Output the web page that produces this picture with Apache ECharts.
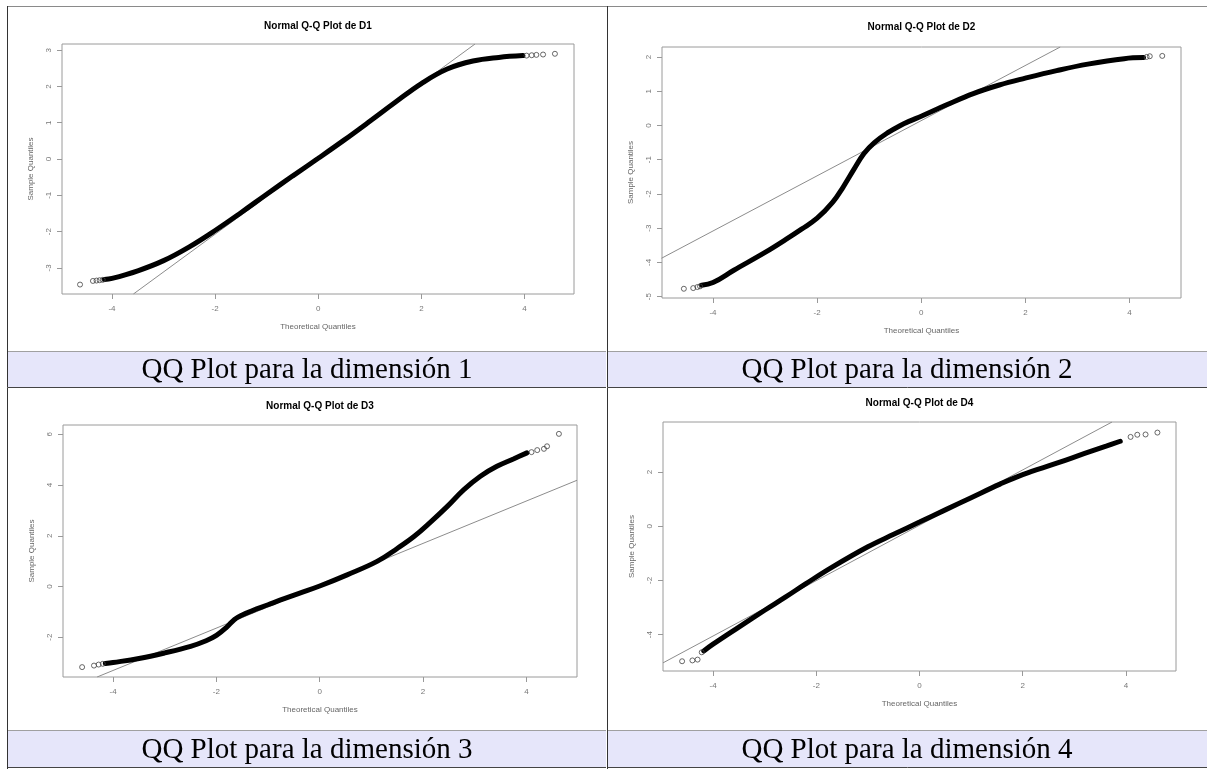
<!DOCTYPE html>
<html><head><meta charset="utf-8">
<script src="https://cdn.jsdelivr.net/npm/echarts@6/dist/echarts.min.js"></script>
<style>html,body{margin:0;padding:0;background:#fff}#c{width:1207px;height:769px}</style>
</head><body><div id="c"></div>
<script>
// ---------- data ----------
const panelTitles = ['Normal Q-Q Plot de D1','Normal Q-Q Plot de D2','Normal Q-Q Plot de D3','Normal Q-Q Plot de D4'];
const captions = ['QQ Plot para la dimensión 1','QQ Plot para la dimensión 2','QQ Plot para la dimensión 3','QQ Plot para la dimensión 4'];
const xAxisName = 'Theoretical Quantiles';
const yAxisName = 'Sample Quantiles';
const xTicks = [-4,-2,0,2,4];
const d1YTicks = [-3,-2,-1,0,1,2,3];
const d2YTicks = [-5,-4,-3,-2,-1,0,1,2];
const d3YTicks = [-2,0,2,4,6];
const d4YTicks = [-4,-2,0,2];
const d1XRange = [-4.97,4.96], d1YRange = [-3.72,3.17];
const d2XRange = [-4.98,4.99], d2YRange = [-5.04,2.29];
const d3XRange = [-4.97,4.98], d3YRange = [-3.57,6.37];
const d4XRange = [-4.97,4.97], d4YRange = [-5.34,3.84];

// dense part of each Q-Q cloud (theoretical, sample)
const d1Curve = [[-4.15,-3.32],[-4.0,-3.29],[-3.5,-3.08],[-3.0,-2.80],[-2.5,-2.42],[-2.0,-1.97],[-1.5,-1.48],[-1.0,-0.97],[-0.5,-0.47],[0,0.02],[0.5,0.52],[1.0,1.04],[1.5,1.57],[2.0,2.08],[2.5,2.48],[3.0,2.70],[3.5,2.80],[3.97,2.85]];
const d2Curve = [[-4.22,-4.67],[-4.0,-4.59],[-3.6,-4.23],[-3.0,-3.71],[-2.6,-3.33],[-2.3,-3.03],[-2.0,-2.71],[-1.7,-2.24],[-1.5,-1.80],[-1.3,-1.30],[-1.1,-0.82],[-0.9,-0.50],[-0.65,-0.22],[-0.4,0.0],[-0.2,0.14],[0.0,0.27],[0.5,0.61],[1.0,0.93],[1.5,1.18],[2.0,1.38],[2.6,1.60],[3.2,1.79],[3.9,1.95],[4.27,1.98]];
const d3Curve = [[-4.15,-3.04],[-4.0,-3.0],[-3.5,-2.84],[-3.0,-2.62],[-2.5,-2.36],[-2.2,-2.14],[-2.0,-1.93],[-1.8,-1.6],[-1.65,-1.3],[-1.5,-1.12],[-1.3,-0.95],[-1.0,-0.72],[-0.77,-0.54],[-0.4,-0.27],[0.0,0.02],[0.53,0.46],[1.11,0.99],[1.5,1.5],[1.83,1.98],[2.15,2.55],[2.47,3.16],[2.79,3.82],[3.11,4.35],[3.43,4.74],[3.76,5.04],[4.01,5.27]];
const d4Curve = [[-4.18,-4.6],[-4.0,-4.35],[-3.5,-3.72],[-3.0,-3.1],[-2.6,-2.62],[-2.2,-2.12],[-1.7,-1.52],[-1.0,-0.76],[-0.5,-0.3],[0.0,0.15],[0.5,0.6],[1.0,1.05],[1.56,1.55],[2.0,1.9],[2.66,2.32],[3.2,2.68],[3.63,2.96],[3.89,3.13]];

// isolated tail points
const d1Tail = [[-4.62,-3.46],[-4.37,-3.36],[-4.30,-3.35],[-4.24,-3.34],[-4.18,-3.33],[4.04,2.85],[4.14,2.86],[4.23,2.87],[4.36,2.88],[4.59,2.90]];
const d2Tail = [[-4.56,-4.77],[-4.38,-4.75],[-4.30,-4.72],[-4.25,-4.70],[4.33,2.0],[4.39,2.02],[4.63,2.03]];
const d3Tail = [[-4.6,-3.18],[-4.37,-3.12],[-4.28,-3.08],[-4.2,-3.05],[4.1,5.3],[4.21,5.38],[4.34,5.43],[4.40,5.53],[4.63,6.02]];
const d4Tail = [[-4.6,-4.98],[-4.4,-4.95],[-4.3,-4.92],[-4.22,-4.65],[4.09,3.29],[4.22,3.37],[4.38,3.38],[4.61,3.45]];

// qqline end points
const d1Ref = [[-3.585,-3.72],[3.04,3.17]];
const d2Ref = [[-4.99,-3.88],[2.67,2.29]];
const d3Ref = [[-4.31,-3.57],[4.98,4.19]];
const d4Ref = [[-4.97,-5.04],[3.73,3.84]];

// ---------- layout ----------
const gridBoxes = [
  {left:62, top:44, width:512, height:250},
  {left:662, top:47, width:519, height:251},
  {left:63, top:425, width:514, height:252},
  {left:663, top:422, width:513, height:249}
];
const titleY = [26, 27, 406, 403];
const panels = [
  {curve:d1Curve, tail:d1Tail, ref:d1Ref, xr:d1XRange, yr:d1YRange, yt:d1YTicks},
  {curve:d2Curve, tail:d2Tail, ref:d2Ref, xr:d2XRange, yr:d2YRange, yt:d2YTicks},
  {curve:d3Curve, tail:d3Tail, ref:d3Ref, xr:d3XRange, yr:d3YRange, yt:d3YTicks},
  {curve:d4Curve, tail:d4Tail, ref:d4Ref, xr:d4XRange, yr:d4YRange, yt:d4YTicks}
];

const sans = 'Liberation Sans, Arial, sans-serif';
const option = {animation:false, backgroundColor:'#fff', grid:[], xAxis:[], yAxis:[], series:[], graphic:[]};

panels.forEach((p,i)=>{
  const g = gridBoxes[i];
  option.grid.push({left:g.left, top:g.top, width:g.width, height:g.height, show:true,
    borderColor:'#9a9a9a', borderWidth:1, backgroundColor:'transparent', containLabel:false});
  option.xAxis.push({type:'value', gridIndex:i, min:p.xr[0], max:p.xr[1], position:'bottom',
    axisLine:{show:false, onZero:false}, splitLine:{show:false},
    axisTick:{show:true, length:5, customValues:xTicks, lineStyle:{color:'#999'}},
    axisLabel:{customValues:xTicks, fontSize:8, color:'#777', margin:11, fontFamily:sans},
    name:xAxisName, nameLocation:'middle', nameGap:29,
    nameTextStyle:{fontSize:8, color:'#666', fontFamily:sans}});
  option.yAxis.push({type:'value', gridIndex:i, min:p.yr[0], max:p.yr[1], position:'left',
    axisLine:{show:false, onZero:false}, splitLine:{show:false},
    axisTick:{show:true, length:5, customValues:p.yt, lineStyle:{color:'#999'}},
    axisLabel:{customValues:p.yt, fontSize:8, color:'#777', margin:9, rotate:90, fontFamily:sans},
    name:yAxisName, nameLocation:'middle', nameGap:27,
    nameTextStyle:{fontSize:8, color:'#666', fontFamily:sans}});
  option.series.push({type:'line', xAxisIndex:i, yAxisIndex:i, data:p.ref, showSymbol:false,
    lineStyle:{color:'#8c8c8c', width:1}, clip:true, z:2, silent:true});
  option.series.push({type:'line', xAxisIndex:i, yAxisIndex:i, data:p.curve, showSymbol:false,
    smooth:0.4, lineStyle:{color:'#000', width:5, cap:'round'}, z:3, silent:true});
  option.series.push({type:'scatter', xAxisIndex:i, yAxisIndex:i, data:p.tail, symbol:'circle', symbolSize:5,
    itemStyle:{color:'rgba(255,255,255,0)', borderColor:'#444', borderWidth:1}, z:4, silent:true});
  option.graphic.push({type:'text', x:g.left+g.width/2, y:titleY[i], z:10,
    style:{text:panelTitles[i], align:'center', verticalAlign:'middle', textAlign:'center', textVerticalAlign:'middle',
      font:'bold 10px '+sans, fill:'#000'}});
});

// table: caption bands and borders
const bands = [
  {x:8, y:351, w:598, h:36, cx:307, cy:370.5, t:captions[0]},
  {x:608, y:351, w:599, h:36, cx:907, cy:370.5, t:captions[1]},
  {x:8, y:730, w:598, h:37, cx:307, cy:750, t:captions[2]},
  {x:608, y:730, w:599, h:37, cx:907, cy:750, t:captions[3]}
];
bands.forEach(b=>{
  option.graphic.push({type:'rect', shape:{x:b.x, y:b.y, width:b.w, height:b.h}, z:1,
    style:{fill:'#e6e6fa', stroke:null}});
  option.graphic.push({type:'line', shape:{x1:b.x, y1:b.y+0.5, x2:b.x+b.w, y2:b.y+0.5}, z:2, style:{stroke:'#a0a0a0', lineWidth:1}});
  option.graphic.push({type:'line', shape:{x1:b.x, y1:b.y+b.h+0.5, x2:b.x+b.w, y2:b.y+b.h+0.5}, z:2, style:{stroke:'#444', lineWidth:1}});
  option.graphic.push({type:'text', x:b.cx, y:b.cy, z:3,
    style:{text:b.t, align:'center', verticalAlign:'middle', textAlign:'center', textVerticalAlign:'middle',
      font:'29px "Liberation Serif", "Times New Roman", serif', fill:'#000'}});
});
// outer/inner borders
[
  {x1:7, y1:6.5, x2:1207, y2:6.5, c:'#8a8a8a'},
  {x1:7.5, y1:6, x2:7.5, y2:769, c:'#333'},
  {x1:607.5, y1:6, x2:607.5, y2:769, c:'#333'}
].forEach(l=>option.graphic.push({type:'line', shape:{x1:l.x1,y1:l.y1,x2:l.x2,y2:l.y2}, z:2, style:{stroke:l.c, lineWidth:1}}));

const chart = echarts.init(document.getElementById('c'));
chart.setOption(option);
</script>
</body></html>
